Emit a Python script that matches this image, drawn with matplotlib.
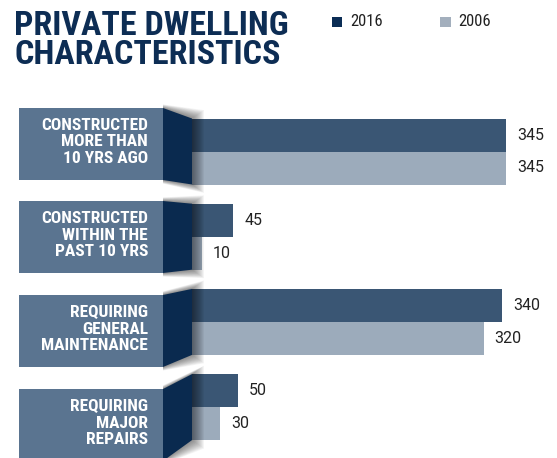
import matplotlib
matplotlib.use('Agg')
import matplotlib.pyplot as plt
from matplotlib.patches import Polygon, Rectangle
from matplotlib.transforms import Affine2D

# data
categories = ['CONSTRUCTED\nMORE THAN\n10 YRS AGO',
              'CONSTRUCTED\nWITHIN THE\nPAST 10 YRS',
              'REQUIRING\nGENERAL\nMAINTENANCE',
              'REQUIRING\nMAJOR\nREPAIRS']
vals_2016 = [345, 45, 340, 50]
vals_2006 = [345, 10, 320, 30]
series = ['2016', '2006']

c16 = '#3a5674'
c06 = '#9cabbb'
c_box = '#5a7490'
c_dark = '#0a2a4f'
c_title = '#0d2d54'
cond = 'Roboto Condensed'

W, H = 557, 458
fig = plt.figure(figsize=(W / 100, H / 100), dpi=100)
ax = fig.add_axes([0, 0, 1, 1])
ax.axis('off')

# pixel transform for the decorations
px = Affine2D().scale(1 / W, -1 / H).translate(0, 1) + fig.transFigure

# value 0 at x=192.5 px, 0.91 px per unit; rows 85.2 px apart
x0, k = 192.5, 0.91
y0, dy = 151.5, 85.2
ax.set_xlim(-x0 / k, (W - x0) / k)
ax.set_ylim((H - y0) / dy, -y0 / dy)

h = 33 / dy
ys = list(range(len(categories)))
ax.barh([y - h / 2 for y in ys], vals_2016, height=h, color=c16, zorder=1)
ax.barh([y + h / 2 for y in ys], vals_2006, height=h, color=c06, zorder=1)

for y, v in zip(ys, vals_2016):
    ax.annotate(str(v), (v, y - h / 2), xytext=(11, 0), textcoords='offset pixels',
                va='center', ha='left', fontsize=11.5, family='Roboto', color='#222222')
for y, v in zip(ys, vals_2006):
    ax.annotate(str(v), (v, y + h / 2), xytext=(11, 0), textcoords='offset pixels',
                va='center', ha='left', fontsize=11.5, family='Roboto', color='#222222')

# label boxes + dark folds
box_tops = [108, 201, 295, 389]
for i, (cat, bt) in enumerate(zip(categories, box_tops)):
    bar_top = y0 + dy * i - 33
    bar_bot = y0 + dy * i + 33
    bb = bt + 72
    # soft shadow
    for d in range(1, 13):
        ax.add_patch(Polygon([(163, bt - d * 0.3), (192 + d, bar_top - d * 0.7),
                              (192 + d, bar_bot + d * 0.7), (163, bb + d * 0.3)],
                             closed=True, transform=px, facecolor='black',
                             alpha=0.045, lw=0, zorder=2))
    ax.add_patch(Rectangle((19, bt), 144, 72, transform=px, facecolor=c_box,
                           lw=0, zorder=3))
    ax.add_patch(Polygon([(163, bt), (192, bar_top), (192, bar_bot), (163, bb)],
                         closed=True, transform=px, facecolor=c_dark, lw=0, zorder=4))
    ax.text(148, bt + 34, cat, transform=px, ha='right', va='center',
            color='white', fontsize=12.5, fontweight='bold', family=cond,
            linespacing=1.12, zorder=5)

# title
ax.text(14, 10, 'PRIVATE DWELLING\nCHARACTERISTICS', transform=px, ha='left',
        va='top', fontsize=24.5, fontweight='bold', family=cond, color=c_title,
        linespacing=0.9)

# legend
ax.add_patch(Rectangle((332, 17), 10, 10, transform=px, facecolor='#0b2d55', lw=0))
ax.add_patch(Rectangle((440, 17), 11, 10, transform=px, facecolor='#a3afbd', lw=0))
ax.text(350, 22, series[0], transform=px, ha='left', va='center', fontsize=12,
        family=cond, color='#222222')
ax.text(458, 22, series[1], transform=px, ha='left', va='center', fontsize=12,
        family=cond, color='#222222')

fig.savefig('out.png', dpi=100)
